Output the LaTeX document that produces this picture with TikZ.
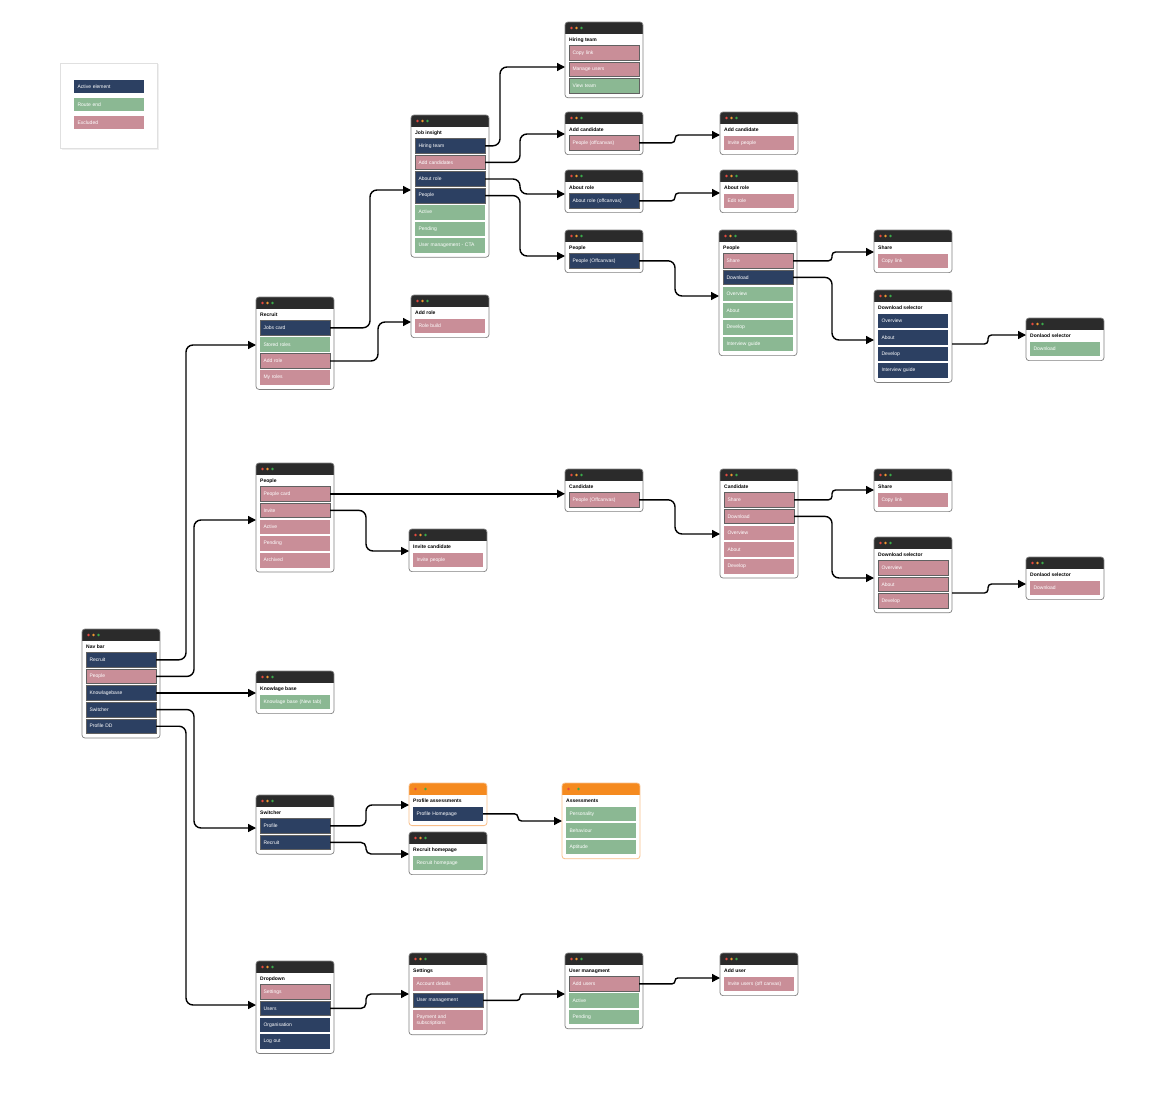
\documentclass[tikz,border=0pt]{standalone}
\usepackage{fontspec}
\setmainfont{Liberation Sans}
\usetikzlibrary{arrows.meta}
\definecolor{nv}{HTML}{2C4062}
\definecolor{gr}{HTML}{8BB893}
\definecolor{pk}{HTML}{C98E98}
\definecolor{hdr}{HTML}{2B2B2B}
\definecolor{org}{HTML}{F58A1F}
\definecolor{orgb}{HTML}{F8BE88}
\definecolor{dotr}{HTML}{E5483F}
\definecolor{doto}{HTML}{EE9630}
\definecolor{dotg}{HTML}{3AAA4A}
\tikzset{
 winbox/.style={rectangle, fill=white, inner sep=0pt, outer sep=0pt, minimum width=78pt},
 itembox/.style={rectangle, minimum height=14.6pt, text width=63pt, inner xsep=3.5pt, inner ysep=0pt, align=left, font=\fontsize{5}{6}\selectfont, text=white, outer sep=0pt},
 selb/.style={draw=black!62, line width=0.7pt},
 cnv/.style={fill=nv}, cgr/.style={fill=gr}, cpk/.style={fill=pk},
 conn/.style={line width=1.4pt, -{Triangle[length=8pt,width=8pt]}},
 ttl/.style={font=\fontsize{5}{6}\selectfont\bfseries, inner sep=0pt, anchor=west},
 hdrdk/.style={fill=hdr}, hdror/.style={fill=org},
 bddk/.style={draw=black!50, line width=0.7pt}, bdor/.style={draw=orgb, line width=0.8pt},
 dotodk/.style={fill=doto}, dotoor/.style={fill=org},
}
\newcommand\win[6][dk]{%
 \node[winbox, minimum height={(26+16.6*#5)*1pt}, anchor=north west] (#2) at (#3,#4) {};
 \begin{scope}
  \clip[rounded corners=3pt] (#2.south west) rectangle (#2.north east);
  \path[hdr#1] (#2.north west) rectangle ([yshift=-12pt]#2.north east);
 \end{scope}
 \path[bd#1, rounded corners=3pt] (#2.south west) rectangle (#2.north east);
 \fill[dotr] ([xshift=6.5pt,yshift=-6pt]#2.north west) circle (1.35pt);
 \path[doto#1] ([xshift=11.5pt,yshift=-6pt]#2.north west) circle (1.35pt);
 \fill[dotg] ([xshift=16.5pt,yshift=-6pt]#2.north west) circle (1.35pt);
 \node[ttl] (#2-t) at ([xshift=4pt,yshift=-18pt]#2.north west) {#6};
}
\newcommand\itm[6][]{%
 \node[itembox,#5,#1,anchor=north west] (#2) at ([xshift=4pt,yshift={-23.5pt-#4*16.6pt}]#3.north west) {#6};
}
\newcommand\conn[5][7]{%
 \coordinate (#4-in) at ([yshift=-#5pt]#4.north west);
 \draw[conn, rounded corners=#1pt] (#2.east) -| (#3,0 |- #4-in) -- (#4-in);
}
\begin{document}
\begin{tikzpicture}[x=1pt,y=-1pt]
\fill[white] (0,0) rectangle (1165,1108);
\useasboundingbox (0,0) rectangle (1165,1108);

% legend
\fill[black!6] (61.5,64.5) rectangle (158.5,149.5);
\node[draw=black!12, fill=white, minimum width=97pt, minimum height=85pt, anchor=north west, inner sep=0pt, outer sep=0pt] (legend) at (60,63) {};
\node[itembox,cnv,minimum height=13pt,anchor=north west] (lg1) at (74,80) {Active element};
\node[itembox,cgr,minimum height=13pt,anchor=north west] (lg2) at (74,98) {Route end};
\node[itembox,cpk,minimum height=13pt,anchor=north west] (lg3) at (74,116) {Excluded};

% nav bar
\win{nav}{82}{629}{5}{Nav bar}
\itm[selb]{navrec}{nav}{0}{cnv}{Recruit}
\itm[selb]{navpeo}{nav}{1}{cpk}{People}
\itm[selb]{navkb}{nav}{2}{cnv}{Knowlagebase}
\itm[selb]{navsw}{nav}{3}{cnv}{Switcher}
\itm[selb]{navpdd}{nav}{4}{cnv}{Profile DD}

% recruit branch
\win{recruit}{256}{297}{4}{Recruit}
\itm[selb]{rjobs}{recruit}{0}{cnv}{Jobs card}
\itm{rstored}{recruit}{1}{cgr}{Stored roles}
\itm[selb]{raddrole}{recruit}{2}{cpk}{Add role}
\itm{rmy}{recruit}{3}{cpk}{My roles}

\win{addrole}{411}{295}{1}{Add role}
\itm{arbuild}{addrole}{0}{cpk}{Role build}

\win{jobins}{411}{115}{7}{Job insight}
\itm[selb]{jhire}{jobins}{0}{cnv}{Hiring team}
\itm[selb]{jaddc}{jobins}{1}{cpk}{Add candidates}
\itm[selb]{jabout}{jobins}{2}{cnv}{About role}
\itm[selb]{jpeople}{jobins}{3}{cnv}{People}
\itm{jactive}{jobins}{4}{cgr}{Active}
\itm{jpending}{jobins}{5}{cgr}{Pending}
\itm{jcta}{jobins}{6}{cgr}{User management - CTA}

\win{hiring}{565}{22}{3}{Hiring team}
\itm[selb]{hcopy}{hiring}{0}{cpk}{Copy link}
\itm[selb]{hmanage}{hiring}{1}{cpk}{Manage users}
\itm[selb]{hview}{hiring}{2}{cgr}{View team}

\win{addcand}{565}{112}{1}{Add candidate}
\itm[selb]{acpeople}{addcand}{0}{cpk}{People (offcanvas)}
\win{addcand2}{720}{112}{1}{Add candidate}
\itm{acinvite}{addcand2}{0}{cpk}{Invite people}

\win{aboutr}{565}{170}{1}{About role}
\itm[selb]{arabout}{aboutr}{0}{cnv}{About role (offcanvas)}
\win{aboutr2}{720}{170}{1}{About role}
\itm{aredit}{aboutr2}{0}{cpk}{Edit role}

\win{peoples}{565}{230}{1}{People}
\itm[selb]{pspeople}{peoples}{0}{cnv}{People (Offcanvas)}

\win{peopleb}{719}{230}{6}{People}
\itm[selb]{pbshare}{peopleb}{0}{cpk}{Share}
\itm[selb]{pbdl}{peopleb}{1}{cnv}{Download}
\itm{pbover}{peopleb}{2}{cgr}{Overview}
\itm{pbabout}{peopleb}{3}{cgr}{About}
\itm{pbdev}{peopleb}{4}{cgr}{Develop}
\itm{pbint}{peopleb}{5}{cgr}{Interview guide}

\win{share1}{874}{230}{1}{Share}
\itm{s1copy}{share1}{0}{cpk}{Copy link}

\win{dlsel1}{874}{290}{4}{Download selector}
\itm{d1over}{dlsel1}{0}{cnv}{Overview}
\itm{d1about}{dlsel1}{1}{cnv}{About}
\itm{d1dev}{dlsel1}{2}{cnv}{Develop}
\itm{d1int}{dlsel1}{3}{cnv}{Interview guide}

\win{donl1}{1026}{318}{1}{Donlaod selector}
\itm{dn1dl}{donl1}{0}{cgr}{Download}

% people branch
\win{people2}{256}{463}{5}{People}
\itm[selb]{p2card}{people2}{0}{cpk}{People card}
\itm[selb]{p2inv}{people2}{1}{cpk}{Invite}
\itm{p2active}{people2}{2}{cpk}{Active}
\itm{p2pending}{people2}{3}{cpk}{Pending}
\itm{p2arch}{people2}{4}{cpk}{Archived}

\win{invcand}{409}{529}{1}{Invite candidate}
\itm{icinvite}{invcand}{0}{cpk}{Invite people}

\win{cand1}{565}{469}{1}{Candidate}
\itm[selb]{c1people}{cand1}{0}{cpk}{People (Offcanvas)}

\win{cand2}{720}{469}{5}{Candidate}
\itm[selb]{c2share}{cand2}{0}{cpk}{Share}
\itm[selb]{c2dl}{cand2}{1}{cpk}{Download}
\itm{c2over}{cand2}{2}{cpk}{Overview}
\itm{c2about}{cand2}{3}{cpk}{About}
\itm{c2dev}{cand2}{4}{cpk}{Develop}

\win{share2}{874}{469}{1}{Share}
\itm{s2copy}{share2}{0}{cpk}{Copy link}

\win{dlsel2}{874}{537}{3}{Download selector}
\itm[selb]{d2over}{dlsel2}{0}{cpk}{Overview}
\itm[selb]{d2about}{dlsel2}{1}{cpk}{About}
\itm[selb]{d2dev}{dlsel2}{2}{cpk}{Develop}

\win{donl2}{1026}{557}{1}{Donlaod selector}
\itm{dn2dl}{donl2}{0}{cpk}{Download}

% knowledge base
\win{kb}{256}{671}{1}{Knowlage base}
\itm{kbitem}{kb}{0}{cgr}{Knowlage base (New tab)}

% switcher
\win{switch}{256}{795}{2}{Switcher}
\itm[selb]{swprof}{switch}{0}{cnv}{Profile}
\itm[selb]{swrec}{switch}{1}{cnv}{Recruit}

\win[or]{profass}{409}{783}{1}{Profile assessments}
\itm{paprof}{profass}{0}{cnv}{Profile Homepage}

\win{rechome}{409}{832}{1}{Recruit homepage}
\itm{rhitem}{rechome}{0}{cgr}{Recruit homepage}

\win[or]{assess}{562}{783}{3}{Assessments}
\itm{aspers}{assess}{0}{cgr}{Personality}
\itm{asbeh}{assess}{1}{cgr}{Behaviour}
\itm{asapt}{assess}{2}{cgr}{Aptitude}

% dropdown
\win{dropdown}{256}{961}{4}{Dropdown}
\itm[selb]{ddset}{dropdown}{0}{cpk}{Settings}
\itm[selb]{ddusers}{dropdown}{1}{cnv}{Users}
\itm{ddorg}{dropdown}{2}{cnv}{Organisation}
\itm{ddlog}{dropdown}{3}{cnv}{Log out}

\win{settings}{409}{953}{3.36}{Settings}
\itm{stacc}{settings}{0}{cpk}{Account details}
\itm[selb]{stuser}{settings}{1}{cnv}{User management}
\itm[minimum height=20pt]{stpay}{settings}{2}{cpk}{Payment and\\subscriptions}

\win{userman}{565}{953}{3}{User managment}
\itm[selb]{umadd}{userman}{0}{cpk}{Add users}
\itm{umactive}{userman}{1}{cgr}{Active}
\itm{umpending}{userman}{2}{cgr}{Pending}

\win{adduser}{720}{953}{1}{Add user}
\itm{auinv}{adduser}{0}{cpk}{Invite users (off canvas)}

% connectors
\conn{navrec}{186}{recruit}{48}
\conn{navpeo}{194}{people2}{57}
\draw[conn] (navkb.east) -- (navkb.east -| kb.west);
\conn{navsw}{194}{switch}{33}
\conn{navpdd}{186}{dropdown}{44}
\conn{rjobs}{370}{jobins}{75}
\conn{raddrole}{378}{addrole}{27}
\conn{jhire}{500}{hiring}{45}
\conn{jaddc}{520}{addcand}{22}
\conn{jabout}{520}{aboutr}{24}
\conn{jpeople}{520}{peoples}{26}
\conn[3.5]{acpeople}{675}{addcand2}{23}
\conn[3.5]{arabout}{675}{aboutr2}{23}
\conn{pspeople}{675}{peopleb}{66}
\conn[3.5]{pbshare}{832}{share1}{22}
\conn{pbdl}{832}{dlsel1}{50}
\coordinate (dlsel1-out) at ([yshift=-54pt]dlsel1.north east);
\coordinate (donl1-in) at ([yshift=-17pt]donl1.north west);
\draw[conn, rounded corners=3.5pt] (dlsel1-out) -| (988,0 |- donl1-in) -- (donl1-in);
\draw[conn] (p2card.east) -- (p2card.east -| cand1.west);
\conn{p2inv}{366}{invcand}{22}
\conn{c1people}{675}{cand2}{65}
\conn[3.5]{c2share}{832}{share2}{21}
\conn{c2dl}{832}{dlsel2}{41}
\coordinate (dlsel2-out) at ([yshift=-56pt]dlsel2.north east);
\coordinate (donl2-in) at ([yshift=-27pt]donl2.north west);
\draw[conn, rounded corners=3.5pt] (dlsel2-out) -| (988,0 |- donl2-in) -- (donl2-in);
\conn[6]{swprof}{366}{profass}{22}
\conn[5]{swrec}{366}{rechome}{22}
\conn[3.5]{paprof}{518}{assess}{38}
\conn[5]{ddusers}{366}{settings}{41}
\conn[3]{stuser}{520}{userman}{41}
\conn[2.8]{umadd}{675}{adduser}{25}
\end{tikzpicture}
\end{document}
